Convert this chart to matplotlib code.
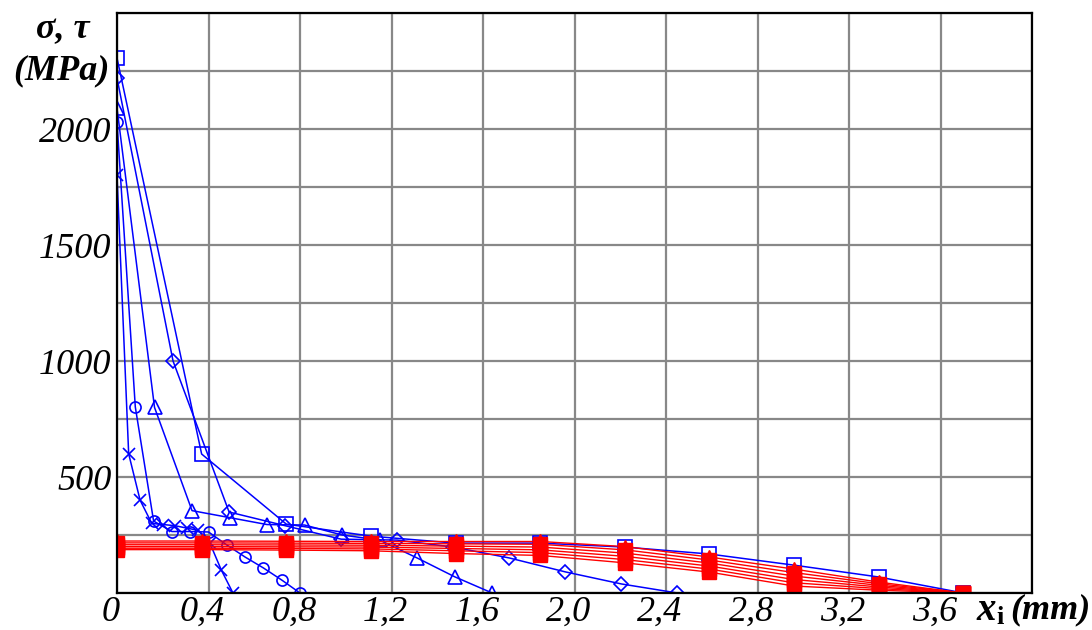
import numpy as np
import matplotlib.pyplot as plt
import matplotlib.transforms as mtransforms

# fonts: serif italic like the original (Mathcad style)
plt.rcParams['font.family'] = ['Liberation Serif', 'DejaVu Serif']

# ---- data ----
# blue curves: sigma, each series has its own step along x
x_square = [0, 0.37, 0.74, 1.11, 1.48, 1.85, 2.22, 2.59, 2.96, 3.33, 3.70]
y_square = [2306, 599, 297, 245, 215, 215, 198, 168, 120, 69, 0]

x_diamond = [0, 0.245, 0.49, 0.735, 0.98, 1.225, 1.47, 1.715, 1.96, 2.205, 2.45]
y_diamond = [2220, 1000, 349, 290, 232, 228, 198, 151, 91, 39, 0]

x_triangle = [0, 0.164, 0.328, 0.492, 0.656, 0.82, 0.984, 1.148, 1.312, 1.476, 1.64]
y_triangle = [2090, 800, 355, 325, 295, 293, 250, 228, 151, 70, 0]

x_circle = [0, 0.08, 0.16, 0.24, 0.32, 0.40, 0.48, 0.56, 0.64, 0.72, 0.80]
y_circle = [2030, 802, 310, 265, 265, 263, 207, 155, 108, 56, 0]

x_cross = [0, 0.051, 0.101, 0.152, 0.203, 0.254, 0.304, 0.355, 0.406, 0.456, 0.507]
y_cross = [1800, 600, 400, 300, 295, 290, 280, 270, 215, 99, 0]

# red curves: tau, common x
x_red = [0, 0.37, 0.74, 1.11, 1.48, 1.85, 2.22, 2.59, 2.96, 3.33, 3.70]
y_red1 = [224, 224, 223, 222, 222, 222, 200, 155, 103, 47, 0]
y_red2 = [216, 216, 215, 214, 212, 210, 186, 142, 88, 40, 0]
y_red3 = [208, 208, 207, 206, 202, 198, 172, 129, 73, 33, 0]
y_red4 = [200, 200, 199, 198, 192, 186, 158, 116, 58, 26, 0]
y_red5 = [193, 193, 192, 190, 182, 174, 144, 103, 44, 19, 0]
y_red6 = [187, 187, 185, 182, 170, 162, 130, 90, 30, 12, 0]

x_ticks = [0, 0.4, 0.8, 1.2, 1.6, 2.0, 2.4, 2.8, 3.2, 3.6, 4.0]
x_labels = ['0', '0,4', '0,8', '1,2', '1,6', '2,0', '2,4', '2,8', '3,2', '3,6', '']
y_ticks = [0, 250, 500, 750, 1000, 1250, 1500, 1750, 2000, 2250, 2500]
y_labels = ['', '', '500', '', '1000', '', '1500', '', '2000', '', '']

# ---- figure ----
fig = plt.figure(figsize=(10.92, 6.30), dpi=100)
ax = fig.add_axes([117 / 1092, 37 / 630, 915 / 1092, 580 / 630])

blue = '#0000ff'
red = '#ff0000'

ax.plot(x_square, y_square, color=blue, lw=1.1, marker='s', ms=10, mfc='none', mew=1.2)
ax.plot(x_diamond, y_diamond, color=blue, lw=1.1, marker='D', ms=7.5, mfc='none', mew=1.2)
ax.plot(x_triangle, y_triangle, color=blue, lw=1.1, marker='^', ms=10, mfc='none', mew=1.2)
ax.plot(x_circle, y_circle, color=blue, lw=1.1, marker='o', ms=8, mfc='none', mew=1.2)
ax.plot(x_cross, y_cross, color=blue, lw=1.1, marker='x', ms=9, mew=1.2)

# red lines drawn over the blue ones, like in the original
for yr in [y_red6, y_red5, y_red4, y_red3, y_red2]:
    ax.plot(x_red, yr, color=red, lw=1.0, marker='s', ms=10, mfc=red, mec=red, zorder=3)
ax.plot(x_red, y_red1, color=red, lw=1.0, marker='^', ms=10, mfc=red, mec=red, zorder=3)

ax.set_xlim(0, 4.0)
ax.set_ylim(0, 2500)
ax.set_xticks(x_ticks)
ax.set_xticklabels(x_labels, fontsize=26, fontstyle='italic')
ax.set_yticks(y_ticks)
ax.set_yticklabels(y_labels, fontsize=26, fontstyle='italic')
ax.tick_params(length=0)
ax.tick_params(axis='y', pad=4)
ax.tick_params(axis='x', pad=2)

# x labels sit a bit left of their grid line in the original
shift = mtransforms.ScaledTranslation(-6 / 100, 0, fig.dpi_scale_trans)
for lab in ax.get_xticklabels():
    lab.set_transform(lab.get_transform() + shift)

ax.grid(True, color='#888888', lw=1.6)
ax.set_axisbelow(True)
for s in ax.spines.values():
    s.set_color('black')
    s.set_linewidth(1.6)
    s.set_zorder(4)

# axis titles (bold italic, placed like the original)
fig.text(63 / 1092, 1 - 30 / 630, 'σ, τ', fontsize=26, fontweight='bold',
         fontstyle='italic', ha='center', va='center')
fig.text(61 / 1092, 1 - 71 / 630, '(MPa)', fontsize=26, fontweight='bold',
         fontstyle='italic', ha='center', va='center')
fig.text(976 / 1092, 1 - 610 / 630, 'x', fontsize=28, fontweight='bold',
         fontstyle='italic', ha='left', va='center')
fig.text(996 / 1092, 1 - 617 / 630, 'i', fontsize=19, fontweight='bold',
         ha='left', va='center')
fig.text(1010 / 1092, 1 - 610 / 630, '(mm)', fontsize=26, fontweight='bold',
         fontstyle='italic', ha='left', va='center')

plt.savefig('out.png', dpi=100)
